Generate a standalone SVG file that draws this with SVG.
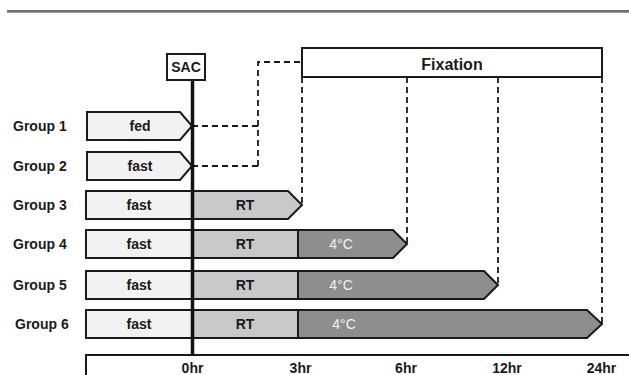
<svg xmlns="http://www.w3.org/2000/svg" width="629" height="375" viewBox="0 0 629 375">
<style>
  .lbl { font-family: "Liberation Sans", Arial, sans-serif; font-weight: bold; font-size: 14px; fill: #1a1a1a; }
  .mid { text-anchor: middle; }
  .cold { font-family: "Liberation Sans", Arial, sans-serif; font-size: 14px; fill: #f2f2f2; text-anchor: middle; }
  .bar { stroke: #1a1a1a; stroke-width: 2; stroke-linejoin: miter; }
  .fast { fill: #f2f2f2; }
  .rt { fill: #c9c9c9; }
  .c4 { fill: #8e8e8e; }
  .dash { fill: none; stroke: #1a1a1a; stroke-width: 1.8; stroke-dasharray: 6 4; }
  .box { fill: #ffffff; stroke: #1a1a1a; stroke-width: 2; }
</style>
<rect x="7" y="10" width="622" height="2.7" fill="#6e6e6e"/>

<g id="connectors">
  <polyline class="dash" points="192,126 258,126"/>
  <polyline class="dash" points="192,166 258,166"/>
  <polyline class="dash" points="258,166 258,62 302,62"/>
  <line class="dash" x1="302" y1="77" x2="302" y2="205"/>
  <line class="dash" x1="407" y1="77" x2="407" y2="244"/>
  <line class="dash" x1="498" y1="77" x2="498" y2="285"/>
  <line class="dash" x1="602" y1="77" x2="602" y2="324"/>
</g>

<g id="fixation">
  <rect class="box" x="302" y="48" width="300" height="29"/>
  <text class="lbl mid" x="452" y="70" style="font-size:16px">Fixation</text>
</g>

<g id="group1">
  <text class="lbl" x="13" y="131">Group 1</text>
  <polygon class="bar fast" points="87,112 180,112 192,126 180,140 87,140"/>
  <text class="lbl mid" x="140" y="131">fed</text>
</g>

<g id="group2">
  <text class="lbl" x="13" y="171">Group 2</text>
  <polygon class="bar fast" points="87,152 180,152 192,166 180,180 87,180"/>
  <text class="lbl mid" x="140" y="171">fast</text>
</g>

<g id="group3">
  <text class="lbl" x="13" y="210">Group 3</text>
  <rect class="bar fast" x="86" y="191" width="106" height="28"/>
  <polygon class="bar rt" points="192,191 288,191 302,205 288,219 192,219"/>
  <text class="lbl mid" x="139" y="210">fast</text>
  <text class="lbl mid" x="245" y="210">RT</text>
</g>

<g id="group4">
  <text class="lbl" x="13" y="249">Group 4</text>
  <rect class="bar fast" x="86" y="230" width="106" height="28"/>
  <rect class="bar rt" x="192" y="230" width="106" height="28"/>
  <polygon class="bar c4" points="298,230 393,230 407,244 393,258 298,258"/>
  <text class="lbl mid" x="139" y="249">fast</text>
  <text class="lbl mid" x="245" y="249">RT</text>
  <text class="cold" x="341" y="249">4°C</text>
</g>

<g id="group5">
  <text class="lbl" x="13" y="290">Group 5</text>
  <rect class="bar fast" x="86" y="271" width="106" height="28"/>
  <rect class="bar rt" x="192" y="271" width="106" height="28"/>
  <polygon class="bar c4" points="298,271 484,271 498,285 484,299 298,299"/>
  <text class="lbl mid" x="139" y="290">fast</text>
  <text class="lbl mid" x="245" y="290">RT</text>
  <text class="cold" x="341" y="290">4°C</text>
</g>

<g id="group6">
  <text class="lbl" x="15" y="329">Group 6</text>
  <rect class="bar fast" x="86" y="310" width="106" height="28"/>
  <rect class="bar rt" x="192" y="310" width="106" height="28"/>
  <polygon class="bar c4" points="298,310 587,310 602,324 587,338 298,338"/>
  <text class="lbl mid" x="139" y="329">fast</text>
  <text class="lbl mid" x="245" y="329">RT</text>
  <text class="cold" x="344" y="329">4°C</text>
</g>

<g id="sac">
  <line x1="192.5" y1="80" x2="192.5" y2="356" stroke="#111" stroke-width="3.5"/>
  <rect class="box" x="167" y="54" width="38" height="26"/>
  <text class="lbl mid" x="186" y="72">SAC</text>
</g>

<g id="axis">
  <path d="M86,380 L86,355 L632,355" fill="none" stroke="#1a1a1a" stroke-width="2"/>
  <text class="lbl mid" x="192.5" y="373">0hr</text>
  <text class="lbl mid" x="300.5" y="373">3hr</text>
  <text class="lbl mid" x="406" y="373">6hr</text>
  <text class="lbl mid" x="507" y="373">12hr</text>
  <text class="lbl mid" x="601.5" y="373">24hr</text>
</g>
</svg>
